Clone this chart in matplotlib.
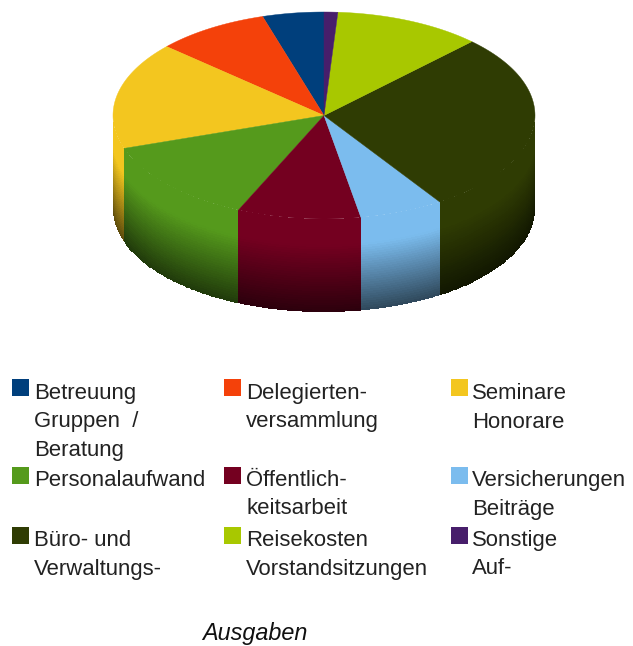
import numpy as np
import matplotlib
matplotlib.use('Agg')
import matplotlib.pyplot as plt
from matplotlib.patches import Polygon, Rectangle

plt.rcParams['font.family'] = ['Liberation Sans', 'DejaVu Sans']

# Shares in percent, counter-clockwise from the top of the pie
categories = ['Betreuung\nGruppen  /\nBeratung', 'Delegierten-\nversammlung', 'Seminare\nHonorare',
              'Personalaufwand', 'Öffentlich-\nkeitsarbeit', 'Versicherungen\nBeiträge',
              'Büro- und\nVerwaltungs-', 'Reisekosten\nVorstandsitzungen', 'Sonstige\nAuf-']
values = [4.7, 8.7, 16.75, 13.2, 9.45, 6.45, 28.4, 11.3, 1.05]
colors = ['#003f7c', '#f4410a', '#f3c61f', '#559a1c', '#740020', '#7bbcee', '#2f3c03', '#a8c800', '#471e6b']

# Pie geometry in pixels
cx, cy = 324, 115.5
rx, ry = 211, 103.5
depth = 93


def ellipse_points(start, end, n=80):
    # angles in degrees, counter-clockwise from the top
    a = np.radians(np.linspace(start, end, n))
    return cx - rx * np.sin(a), cy - ry * np.cos(a)


def draw_wall(ax, start, end, color):
    # only the front half of the rim can be seen
    start, end = max(start, 90), min(end, 270)
    if end <= start:
        return
    x, y = ellipse_points(start, end)
    t = np.linspace(0, 1, 41)
    X = np.tile(x, (len(t), 1))
    Y = y + depth * t[:, None]
    # colour stays flat near the rim, then darkens downward
    tm = (t[:-1] + t[1:]) / 2
    shade = 1 - 0.62 * np.clip((tm - 0.28) / 0.72, 0, 1)
    rgb = np.array(matplotlib.colors.to_rgb(color))
    C = np.tile((shade[:, None] * rgb)[:, None, :], (1, len(x) - 1, 1))
    ax.pcolormesh(X, Y, C, shading='flat', linewidth=0, antialiased=False, rasterized=True)


fig = plt.figure(figsize=(6.33, 6.46), dpi=100)
ax = fig.add_axes([0, 0, 1, 1])
ax.set_xlim(0, 633)
ax.set_ylim(646, 0)
ax.axis('off')

edges = np.concatenate([[0], np.cumsum(values)]) / np.sum(values) * 360

for i in range(len(values)):
    draw_wall(ax, edges[i], edges[i + 1], colors[i])

for i in range(len(values)):
    x, y = ellipse_points(edges[i], edges[i + 1])
    pts = np.column_stack([np.r_[cx, x], np.r_[cy, y]])
    ax.add_patch(Polygon(pts, closed=True, facecolor=colors[i], edgecolor=colors[i], linewidth=0.3))

# Legend, three columns with hand placed rows
col_swatch = [12, 224, 451]
col_text = [34, 246, 472]
row_swatch = [379, 467, 527]
row_base = [399, 486, 546]
line_gap = 28.5

for i, label in enumerate(categories):
    r, c = i // 3, i % 3
    ax.add_patch(Rectangle((col_swatch[c], row_swatch[r]), 17, 17, facecolor=colors[i], edgecolor='none'))
    for j, line in enumerate(label.split('\n')):
        ax.text(col_text[c], row_base[r] + j * line_gap, line, fontsize=15.9, color='#222222',
                ha='left', va='baseline')

ax.text(255, 640, 'Ausgaben', fontsize=16.8, style='italic', color='#111111', ha='center', va='baseline')

fig.savefig('out.png', dpi=100)
